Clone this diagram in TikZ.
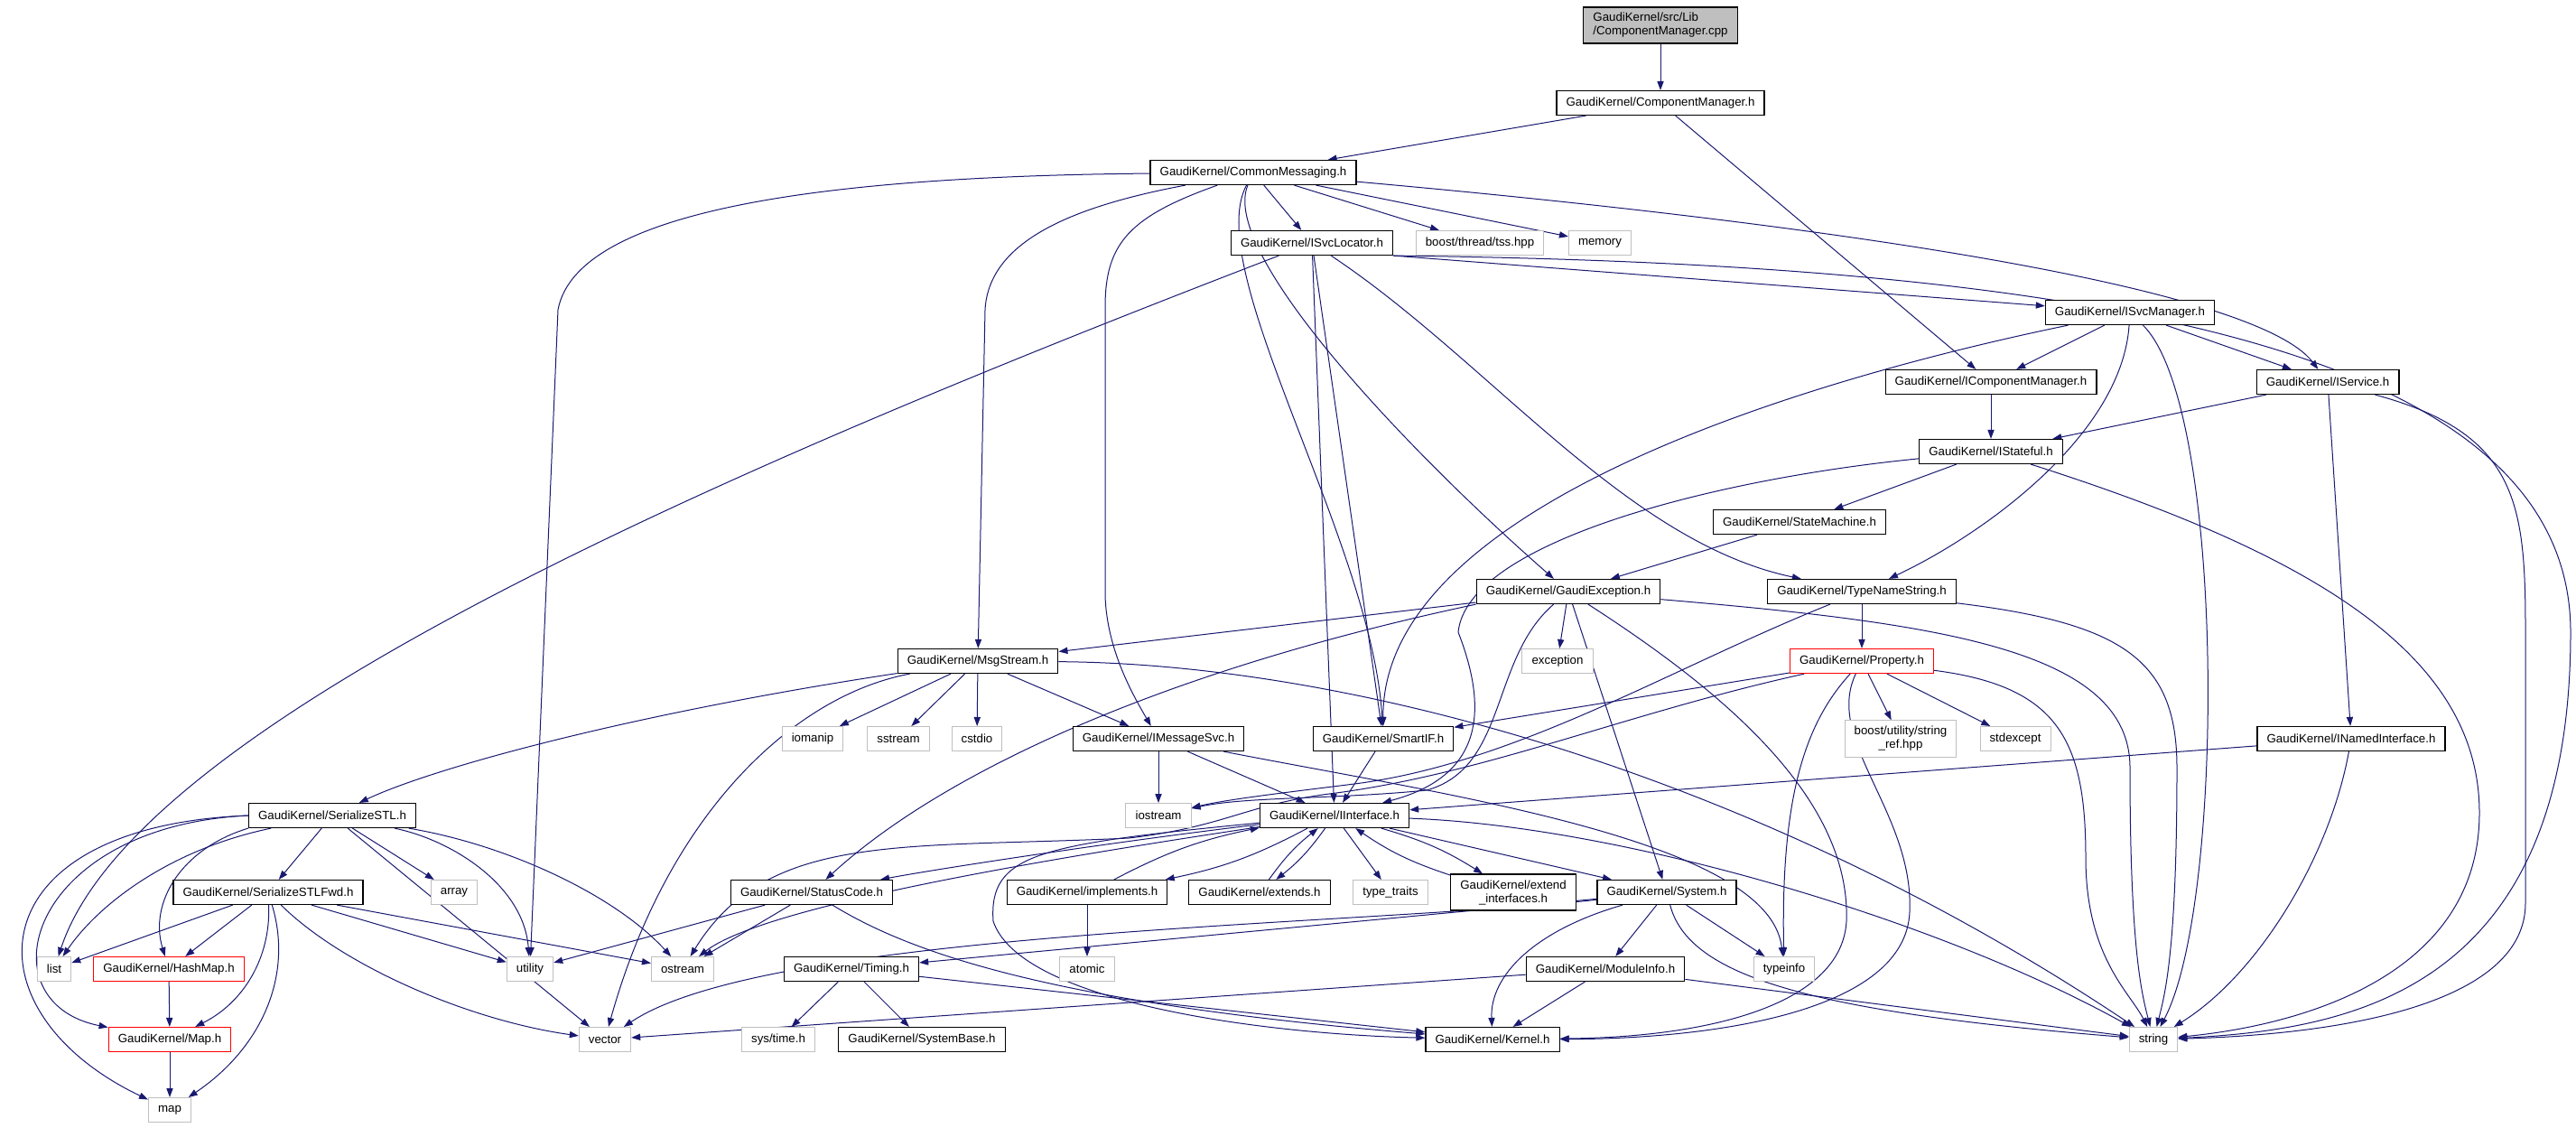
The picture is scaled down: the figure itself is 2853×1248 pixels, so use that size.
\documentclass[tikz,border=0pt]{standalone}
\usepackage{fontspec}
\usetikzlibrary{arrows.meta,backgrounds}
\newfontfamily\dotfont{Liberation Sans}
\newcommand\dotlabel{\dotfont\fontsize{6.64}{7.5}\selectfont}
\definecolor{edgeblue}{HTML}{191970}
\definecolor{sysgray}{HTML}{BFBFBF}
\tikzset{
  filebox/.style={draw, rectangle, font=\dotlabel, minimum height=13.5pt, inner xsep=5.3pt, inner ysep=3.2pt, line width=0.6pt, fill=white},
  hdr/.style={filebox},
  syshdr/.style={filebox, draw=sysgray, line width=0.5pt},
  redhdr/.style={filebox, draw=red},
  srcfile/.style={filebox, fill=sysgray, align=left},
  twoline/.style={align=center},
  inc/.style={draw=edgeblue, line width=0.5pt, -{Triangle[length=5pt,width=3.6pt]}}
}
\begin{document}
\begin{tikzpicture}[x=0.5pt,y=-0.5pt]
\useasboundingbox (0,0) rectangle (2853,1248);
% files
\node[srcfile] (root) at (1839,28) {GaudiKernel/src/Lib\\/ComponentManager.cpp};
\node[hdr] (cmh) at (1839,114) {GaudiKernel/ComponentManager.h};
\node[hdr] (cmsg) at (1388,191) {GaudiKernel/CommonMessaging.h};
\node[hdr] (svcloc) at (1453,269) {GaudiKernel/ISvcLocator.h};
\node[syshdr] (bthread) at (1639,269) {boost/thread/tss.hpp};
\node[syshdr] (memory) at (1772,269) {memory};
\node[hdr] (svcmgr) at (2359,346) {GaudiKernel/ISvcManager.h};
\node[hdr] (icompmgr) at (2205,423) {GaudiKernel/IComponentManager.h};
\node[hdr] (isvc) at (2578,423) {GaudiKernel/IService.h};
\node[hdr] (istate) at (2205,500) {GaudiKernel/IStateful.h};
\node[hdr] (statem) at (1993,578) {GaudiKernel/StateMachine.h};
\node[hdr] (gexc) at (1737,655) {GaudiKernel/GaudiException.h};
\node[hdr] (tns) at (2062,655) {GaudiKernel/TypeNameString.h};
\node[hdr] (msgstream) at (1083,732) {GaudiKernel/MsgStream.h};
\node[syshdr] (exceptionh) at (1725,732) {exception};
\node[redhdr] (prop) at (2062,732) {GaudiKernel/Property.h};
\node[syshdr] (iomanip) at (900,818) {iomanip};
\node[syshdr] (sstream) at (995,818) {sstream};
\node[syshdr] (cstdio) at (1082,818) {cstdio};
\node[hdr] (imsgsvc) at (1283,818) {GaudiKernel/IMessageSvc.h};
\node[hdr] (smartif) at (1532,818) {GaudiKernel/SmartIF.h};
\node[syshdr,twoline] (strref) at (2105,818) {boost/utility/string\\\_ref.hpp};
\node[syshdr] (stdexcept) at (2232,818) {stdexcept};
\node[hdr] (inamed) at (2604,818) {GaudiKernel/INamedInterface.h};
\node[hdr] (serstl) at (368,903) {GaudiKernel/SerializeSTL.h};
\node[syshdr] (iostream) at (1283,903) {iostream};
\node[hdr] (iif) at (1478,903) {GaudiKernel/IInterface.h};
\node[hdr] (serfwd) at (297,988) {GaudiKernel/SerializeSTLFwd.h};
\node[syshdr] (array) at (503,988) {array};
\node[hdr] (statuscode) at (899,988) {GaudiKernel/StatusCode.h};
\node[hdr] (implements) at (1204,988) {GaudiKernel/implements.h};
\node[hdr] (extends) at (1395,988) {GaudiKernel/extends.h};
\node[syshdr] (ttraits) at (1540,988) {type\_traits};
\node[hdr,twoline] (extif) at (1676,988) {GaudiKernel/extend\\\_interfaces.h};
\node[hdr] (systemh) at (1846,988) {GaudiKernel/System.h};
\node[syshdr] (list) at (60,1073) {list};
\node[redhdr] (hashmap) at (187,1073) {GaudiKernel/HashMap.h};
\node[syshdr] (utility) at (587,1073) {utility};
\node[syshdr] (ostream) at (756,1073) {ostream};
\node[hdr] (timing) at (943,1073) {GaudiKernel/Timing.h};
\node[syshdr] (atomic) at (1204,1073) {atomic};
\node[hdr] (modinfo) at (1778,1073) {GaudiKernel/ModuleInfo.h};
\node[syshdr] (typeinfo) at (1976,1073) {typeinfo};
\node[redhdr] (maph) at (188,1151) {GaudiKernel/Map.h};
\node[syshdr] (vector) at (670,1151) {vector};
\node[syshdr] (systime) at (862,1151) {sys/time.h};
\node[hdr] (sysbase) at (1021,1151) {GaudiKernel/SystemBase.h};
\node[hdr] (kernel) at (1653,1151) {GaudiKernel/Kernel.h};
\node[syshdr] (string) at (2385,1151) {string};
\node[syshdr] (map) at (188,1229) {map};
\begin{pgfonlayer}{background}
% top part
\draw[inc] (root) -- (cmh);
\draw[inc] (cmh) -- (cmsg);
\draw[inc] (cmh) -- (icompmgr);
\draw[inc] (cmsg) .. controls (950,195) and (640,225) .. (618,343) -- (utility);
\draw[inc] (cmsg) .. controls (1180,230) and (1095,270) .. (1091,343) -- (msgstream);
\draw[inc] (cmsg) .. controls (1250,240) and (1224,270) .. (1224,340) -- (1224,660) .. controls (1226,720) and (1255,770) .. (imsgsvc);
\draw[inc] (cmsg) .. controls (1330,300) and (1520,600) .. (smartif);
\draw[inc] (cmsg) .. controls (1350,280) and (1560,500) .. (gexc);
\draw[inc] (cmsg) -- (svcloc);
\draw[inc] (cmsg) -- (bthread);
\draw[inc] (cmsg) -- (memory);
\draw[inc] (cmsg) .. controls (2050,250) and (2500,320) .. (isvc);
% ISvcLocator
\draw[inc] (svcloc) .. controls (800,520) and (150,800) .. (list);
\draw[inc] (svcloc) -- (iif);
\draw[inc] (svcloc) -- (smartif);
\draw[inc] (svcloc) .. controls (1650,400) and (1800,600) .. (tns);
\draw[inc] (svcloc.south east) -- (svcmgr);
\draw[inc] (svcloc.south east) .. controls (2300,292) and (2847,380) .. (2847,700) .. controls (2847,1100) and (2600,1140) .. (string);
% ISvcManager and friends
\draw[inc] (svcmgr) .. controls (2000,420) and (1530,560) .. (smartif);
\draw[inc] (svcmgr) -- (icompmgr);
\draw[inc] (svcmgr) .. controls (2350,480) and (2200,590) .. (tns);
\draw[inc] (svcmgr) .. controls (2465,450) and (2465,1000) .. (string);
\draw[inc] (svcmgr) -- (isvc);
\draw[inc] (icompmgr) -- (istate);
\draw[inc] (isvc) -- (istate);
\draw[inc] (isvc) -- (inamed);
\draw[inc] (isvc) .. controls (2790,480) and (2797,560) .. (2797,700) -- (2797,1000) .. controls (2797,1110) and (2600,1145) .. (string);
\draw[inc] (istate) .. controls (1900,530) and (1625,600) .. (1615,700) .. controls (1650,790) and (1640,860) .. (iif);
\draw[inc] (istate) -- (statem);
\draw[inc] (istate) .. controls (2550,610) and (2746,720) .. (2746,900) .. controls (2746,1080) and (2550,1135) .. (string);
\draw[inc] (statem) -- (gexc);
% GaudiException
\draw[inc] (gexc) -- (msgstream);
\draw[inc] (gexc.south west) .. controls (1300,740) and (1050,850) .. (statuscode);
\draw[inc] (gexc) .. controls (1650,730) and (1670,850) .. (1580,875) .. controls (1480,885) and (1380,882) .. (iostream);
\draw[inc] (gexc) -- (exceptionh);
\draw[inc] (gexc) -- (systemh);
\draw[inc] (gexc) .. controls (1900,760) and (2050,880) .. (2045,1020) .. controls (2040,1110) and (1900,1148) .. (kernel);
\draw[inc] (gexc) .. controls (2150,690) and (2359,720) .. (2359,850) .. controls (2359,1050) and (2372,1100) .. (string);
% TypeNameString, Property
\draw[inc] (tns) -- (prop);
\draw[inc] (tns) .. controls (1850,740) and (1680,845) .. (1500,868) .. controls (1420,878) and (1360,885) .. (iostream);
\draw[inc] (tns) .. controls (2350,690) and (2411,730) .. (2411,850) .. controls (2411,1050) and (2398,1100) .. (string);
\draw[inc] (prop) -- (smartif);
\draw[inc] (prop) -- (strref);
\draw[inc] (prop) -- (stdexcept);
\draw[inc] (prop) .. controls (2000,800) and (1972,880) .. (typeinfo);
\draw[inc] (prop) .. controls (2020,820) and (2120,900) .. (2115,1010) .. controls (2110,1120) and (1900,1150) .. (kernel);
\draw[inc] (prop) .. controls (2280,760) and (2310,820) .. (2310,950) .. controls (2310,1060) and (2360,1100) .. (string);
\draw[inc] (prop) .. controls (1800,790) and (1650,855) .. (1480,878) .. controls (1380,890) and (1360,915) .. (1250,928) .. controls (1000,940) and (850,920) .. (ostream);
% MsgStream, IMessageSvc
\draw[inc] (msgstream) .. controls (700,790) and (480,850) .. (serstl);
\draw[inc] (msgstream) -- (iomanip);
\draw[inc] (msgstream) -- (sstream);
\draw[inc] (msgstream) -- (cstdio);
\draw[inc] (msgstream) -- (imsgsvc);
\draw[inc] (msgstream) .. controls (880,770) and (740,900) .. (vector);
\draw[inc] (msgstream) .. controls (1500,735) and (1950,860) .. (string);
\draw[inc] (imsgsvc) -- (iostream);
\draw[inc] (imsgsvc) -- (iif);
\draw[inc] (imsgsvc) .. controls (1600,880) and (1960,930) .. (typeinfo);
\draw[inc] (smartif) -- (iif);
\draw[inc] (inamed) -- (iif);
\draw[inc] (inamed) .. controls (2580,950) and (2500,1080) .. (string);
% IInterface
\draw[inc] (iif) .. controls (1250,930) and (1050,960) .. (statuscode);
\draw[inc] (iif) .. controls (1200,945) and (850,1000) .. (ostream);
\draw[inc] (iif) to[bend left=8] (implements);
\draw[inc] (implements) to[bend left=8] (iif);
\draw[inc] (iif) to[bend left=8] (extends);
\draw[inc] (extends) to[bend left=8] (iif);
\draw[inc] (iif) -- (ttraits);
\draw[inc] (iif) to[bend left=8] (extif);
\draw[inc] (extif) to[bend left=8] (iif);
\draw[inc] (iif) -- (systemh);
\draw[inc] (iif) .. controls (1150,935) and (1095,945) .. (1100,1020) .. controls (1130,1110) and (1400,1145) .. (kernel);
\draw[inc] (iif) .. controls (1800,915) and (2150,1020) .. (string);
\draw[inc] (implements) -- (atomic);
% StatusCode, System
\draw[inc] (statuscode) -- (utility);
\draw[inc] (statuscode) -- (ostream);
\draw[inc] (statuscode) .. controls (1000,1050) and (1150,1110) .. (kernel);
\draw[inc] (systemh) .. controls (1500,1025) and (850,1030) .. (vector);
\draw[inc] (systemh) -- (timing);
\draw[inc] (systemh) .. controls (1700,1030) and (1650,1080) .. (kernel);
\draw[inc] (systemh) -- (modinfo);
\draw[inc] (systemh) .. controls (1870,1080) and (2000,1120) .. (string);
\draw[inc] (systemh) -- (typeinfo);
\draw[inc] (timing) -- (systime);
\draw[inc] (timing) -- (sysbase);
\draw[inc] (timing) -- (kernel);
\draw[inc] (modinfo) -- (vector);
\draw[inc] (modinfo) -- (kernel);
\draw[inc] (modinfo) -- (string);
% SerializeSTL
\draw[inc] (serstl) -- (serfwd);
\draw[inc] (serstl.south west) .. controls (200,940) and (165,1000) .. (hashmap);
\draw[inc] (serstl) .. controls (190,940) and (110,1000) .. (list);
\draw[inc] (serstl.west) .. controls (30,915) and (-20,1110) .. (maph);
\draw[inc] (serstl.west) .. controls (-30,915) and (-40,1120) .. (map);
\draw[inc] (serstl) -- (array);
\draw[inc] (serstl) -- (vector);
\draw[inc] (serstl) .. controls (500,930) and (580,980) .. (utility);
\draw[inc] (serstl) .. controls (560,935) and (680,990) .. (ostream);
\draw[inc] (serfwd) -- (list);
\draw[inc] (serfwd) -- (hashmap);
\draw[inc] (serfwd) .. controls (300,1060) and (270,1110) .. (maph);
\draw[inc] (serfwd) .. controls (325,1080) and (290,1160) .. (map);
\draw[inc] (serfwd) .. controls (380,1070) and (520,1130) .. (vector);
\draw[inc] (serfwd) -- (utility);
\draw[inc] (serfwd) -- (ostream);
\draw[inc] (hashmap) -- (maph);
\draw[inc] (maph) -- (map);
\end{pgfonlayer}
\end{tikzpicture}
\end{document}
